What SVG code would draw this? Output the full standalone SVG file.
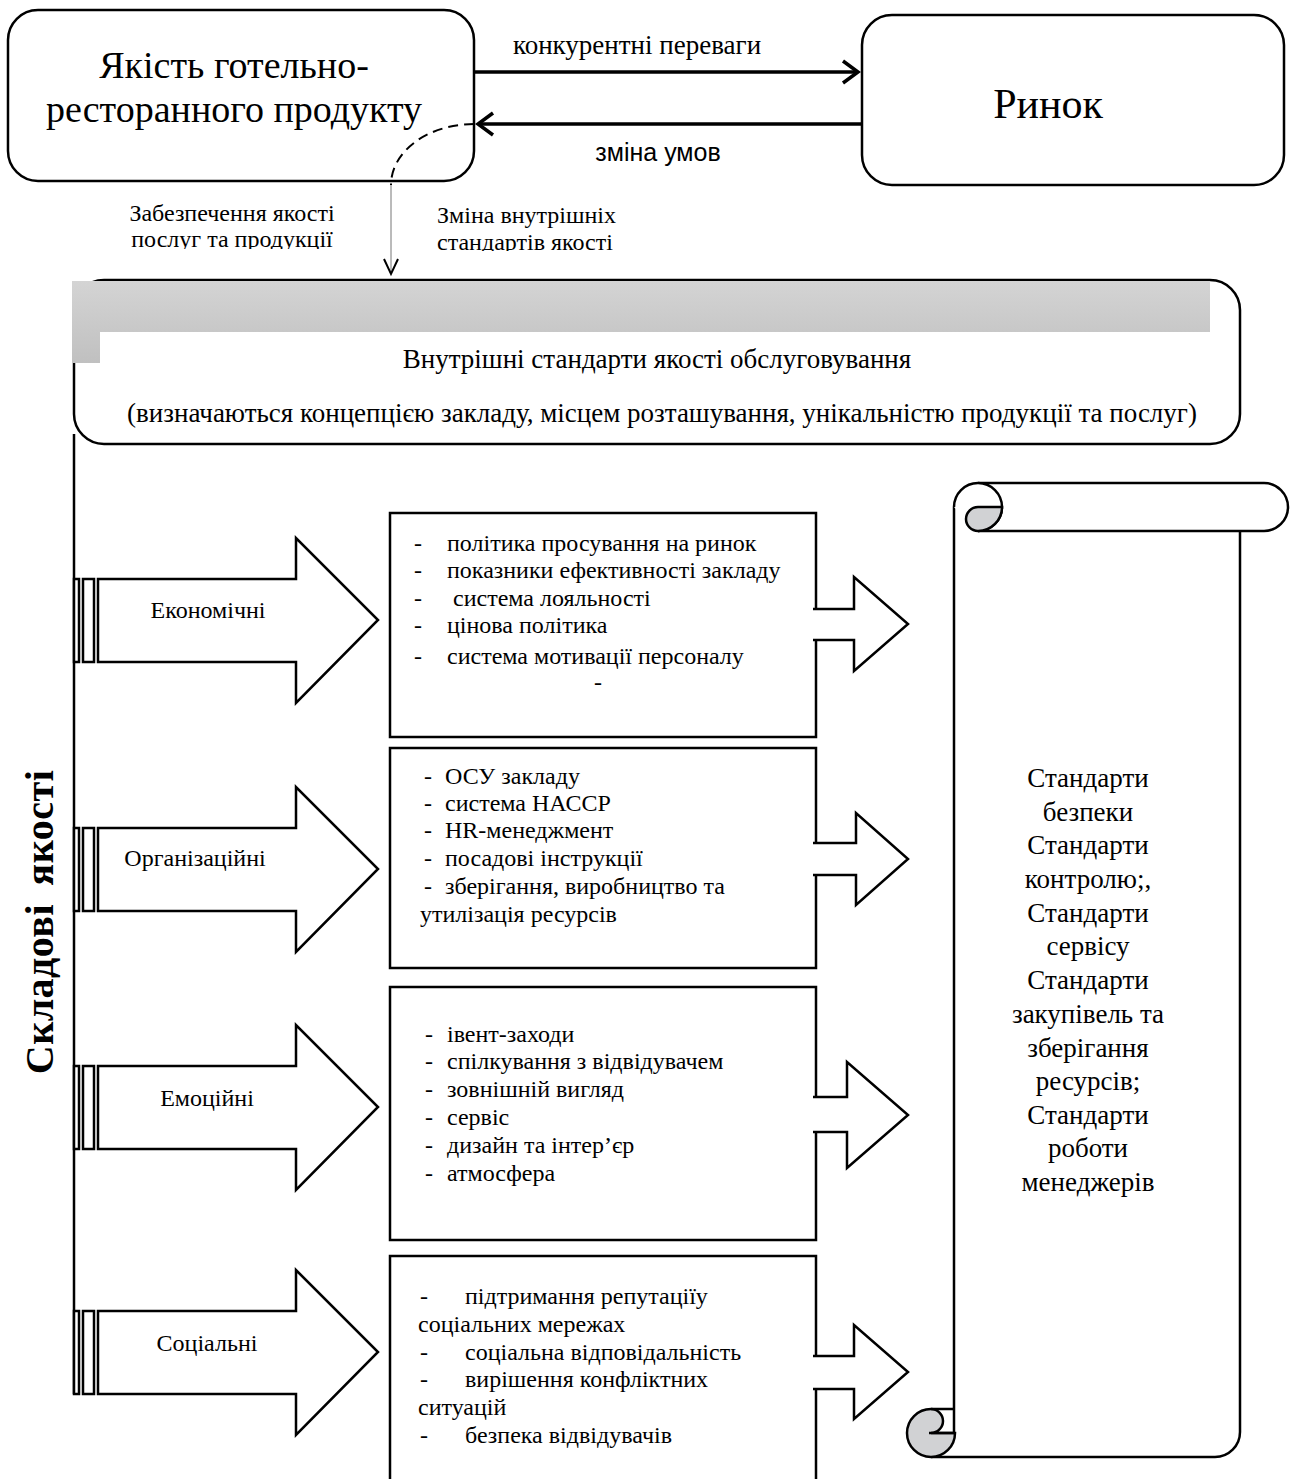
<svg xmlns="http://www.w3.org/2000/svg" width="1292" height="1479" viewBox="0 0 1292 1479">
<style>
  text { font-family: "Liberation Serif", "Times New Roman", serif; fill: #000; }
  .ln { fill: none; stroke: #000; stroke-width: 2.5; }
  .box { fill: #fff; stroke: #000; stroke-width: 2.5; }
  .big { fill: #fff; stroke: #000; stroke-width: 2.5; stroke-linejoin: miter; }
  .lbl { font-size: 24px; text-anchor: middle; }
  .li { font-size: 24px; }
  .scr { font-size: 27px; text-anchor: middle; }
  .sm { fill: #fff; stroke: #000; stroke-width: 2.5; }
</style>
<defs>
  <linearGradient id="gb" x1="0" y1="0" x2="0" y2="1">
    <stop offset="0" stop-color="#d4d4d4"/>
    <stop offset="1" stop-color="#c0c0c0"/>
  </linearGradient>
  <clipPath id="c1"><rect x="100" y="190" width="260" height="59"/></clipPath>
  <clipPath id="c2"><rect x="420" y="190" width="260" height="61"/></clipPath>
</defs>
<rect width="1292" height="1479" fill="#fff"/>

<!-- top nodes -->
<g id="quality">
  <rect x="8" y="10" width="466" height="171" rx="30" class="box"/>
  <text x="234" y="78" font-size="38" text-anchor="middle">Якість готельно-</text>
  <text x="234" y="122" font-size="38" text-anchor="middle">ресторанного продукту</text>
</g>
<g id="market">
  <rect x="862" y="15" width="422" height="170" rx="30" class="box"/>
  <text x="1048" y="118" font-size="42" text-anchor="middle">Ринок</text>
</g>

<!-- banner -->
<g id="standards">
  <rect x="74" y="280" width="1166" height="164" rx="30" class="box" stroke-width="2"/>
  <path d="M72,281 H1210 V332 H100 V363 H72 Z" fill="url(#gb)"/>
  <text x="657" y="368" font-size="27" text-anchor="middle">Внутрішні стандарти якості обслуговування</text>
  <text x="662" y="422" font-size="27" text-anchor="middle">(визначаються концепцією закладу, місцем розташування, унікальністю продукції та послуг)</text>
</g>

<!-- vertical axis -->
<g id="axis">
  <line x1="74" y1="434" x2="74" y2="1394" stroke="#000" stroke-width="2.5"/>
  <text transform="translate(53,922) rotate(-90)" font-size="40" font-weight="bold" text-anchor="middle" word-spacing="8" letter-spacing="0.5">Складові якості</text>
</g>

<!-- big arrows -->
<g id="economic">
  <rect x="74" y="579" width="5" height="83" class="big" stroke-width="2"/>
  <rect x="83" y="579" width="11" height="83" class="big" stroke-width="2"/>
  <path d="M98,579 H296 V538 L378,620 L296,703 V662 H98 Z" class="big"/>
  <text x="208" y="618" class="lbl">Економічні</text>
</g>
<g id="organizational">
  <rect x="74" y="828" width="5" height="83" class="big" stroke-width="2"/>
  <rect x="83" y="828" width="11" height="83" class="big" stroke-width="2"/>
  <path d="M98,828 H296 V787 L378,869 L296,952 V911 H98 Z" class="big"/>
  <text x="195" y="866" class="lbl">Організаційні</text>
</g>
<g id="emotional">
  <rect x="74" y="1066" width="5" height="83" class="big" stroke-width="2"/>
  <rect x="83" y="1066" width="11" height="83" class="big" stroke-width="2"/>
  <path d="M98,1066 H296 V1025 L378,1107 L296,1190 V1149 H98 Z" class="big"/>
  <text x="207" y="1106" class="lbl">Емоційні</text>
</g>
<g id="social">
  <rect x="74" y="1311" width="5" height="83" class="big" stroke-width="2"/>
  <rect x="83" y="1311" width="11" height="83" class="big" stroke-width="2"/>
  <path d="M98,1311 H296 V1270 L378,1352 L296,1435 V1394 H98 Z" class="big"/>
  <text x="207" y="1351" class="lbl">Соціальні</text>
</g>

<!-- list boxes -->
<g id="list-economic">
  <rect x="390" y="513" width="426" height="224" class="box"/>
  <text class="li" y="551"><tspan x="414">-</tspan><tspan x="447">політика просування на ринок</tspan></text>
  <text class="li" y="578"><tspan x="414">-</tspan><tspan x="447">показники ефективності закладу</tspan></text>
  <text class="li" y="606"><tspan x="414">-</tspan><tspan x="453">система лояльності</tspan></text>
  <text class="li" y="633"><tspan x="414">-</tspan><tspan x="447">цінова політика</tspan></text>
  <text class="li" y="664"><tspan x="414">-</tspan><tspan x="447">система мотивації персоналу</tspan></text>
  <text class="li" x="594" y="690">-</text>
</g>
<g id="list-organizational">
  <rect x="390" y="748" width="426" height="220" class="box"/>
  <text class="li" y="784"><tspan x="424">-</tspan><tspan x="445">ОСУ закладу</tspan></text>
  <text class="li" y="811"><tspan x="424">-</tspan><tspan x="445">система НАССР</tspan></text>
  <text class="li" y="838"><tspan x="424">-</tspan><tspan x="445">HR-менеджмент</tspan></text>
  <text class="li" y="866"><tspan x="424">-</tspan><tspan x="445">посадові інструкції</tspan></text>
  <text class="li" y="894"><tspan x="424">-</tspan><tspan x="445">зберігання, виробництво та</tspan></text>
  <text class="li" x="420" y="922">утилізація ресурсів</text>
</g>
<g id="list-emotional">
  <rect x="390" y="987" width="426" height="253" class="box"/>
  <text class="li" y="1042"><tspan x="425">-</tspan><tspan x="447">івент-заходи</tspan></text>
  <text class="li" y="1069"><tspan x="425">-</tspan><tspan x="447">спілкування з відвідувачем</tspan></text>
  <text class="li" y="1097"><tspan x="425">-</tspan><tspan x="447">зовнішній вигляд</tspan></text>
  <text class="li" y="1125"><tspan x="425">-</tspan><tspan x="447">сервіс</tspan></text>
  <text class="li" y="1153"><tspan x="425">-</tspan><tspan x="447">дизайн та інтер’єр</tspan></text>
  <text class="li" y="1181"><tspan x="425">-</tspan><tspan x="447">атмосфера</tspan></text>
</g>
<g id="list-social">
  <rect x="390" y="1256" width="426" height="240" class="box"/>
  <text class="li" y="1304"><tspan x="420">-</tspan><tspan x="465">підтримання репутаціїу</tspan></text>
  <text class="li" x="418" y="1332">соціальних мережах</text>
  <text class="li" y="1360"><tspan x="420">-</tspan><tspan x="465">соціальна відповідальність</tspan></text>
  <text class="li" y="1387"><tspan x="420">-</tspan><tspan x="465">вирішення конфліктних</tspan></text>
  <text class="li" x="418" y="1415">ситуацій</text>
  <text class="li" y="1443"><tspan x="420">-</tspan><tspan x="465">безпека відвідувачів</tspan></text>
</g>

<!-- scroll -->
<g id="scroll">
  <path d="M954,507 V1433 M931,1457 H1215 A25,25 0 0 0 1240,1432 V531" class="ln"/>
  <path d="M954,507 A24,24 0 0 1 978,483 H1264 A24,24 0 0 1 1264,531 H978" fill="#fff" stroke="#000" stroke-width="2.5"/>
  <path d="M978,483 A24,24 0 0 1 1002,507 A24,24 0 0 1 978,531" fill="#fff" stroke="#000" stroke-width="2.5"/>
  <path d="M1002,507 H978 A12,12 0 0 0 978,531 A24,24 0 0 0 1002,507 Z" fill="#d1d2d4" stroke="#000" stroke-width="2.5"/>
  <path d="M931,1409 A12,12 0 0 1 931,1433 H955 A24,24 0 0 1 931,1457 A24,24 0 0 1 907,1433 A24,24 0 0 1 931,1409 Z" fill="#d1d2d4" stroke="#000" stroke-width="2.5"/>
  <path d="M931,1409 H954 M929,1433 H954" class="ln"/>
  <text class="scr" x="1088" y="787">Стандарти</text>
  <text class="scr" x="1088" y="821">безпеки</text>
  <text class="scr" x="1088" y="854">Стандарти</text>
  <text class="scr" x="1088" y="888">контролю;,</text>
  <text class="scr" x="1088" y="922">Стандарти</text>
  <text class="scr" x="1088" y="955">сервісу</text>
  <text class="scr" x="1088" y="989">Стандарти</text>
  <text class="scr" x="1088" y="1023">закупівель та</text>
  <text class="scr" x="1088" y="1057">зберігання</text>
  <text class="scr" x="1088" y="1090">ресурсів;</text>
  <text class="scr" x="1088" y="1124">Стандарти</text>
  <text class="scr" x="1088" y="1157">роботи</text>
  <text class="scr" x="1088" y="1191">менеджерів</text>
</g>

<!-- connectors -->
<g id="connectors">
  <line x1="474" y1="72" x2="856" y2="72" stroke="#000" stroke-width="3.5"/>
  <path d="M843,61 L858,72 L843,83" fill="none" stroke="#000" stroke-width="3.5"/>
  <line x1="862" y1="124" x2="480" y2="124" stroke="#000" stroke-width="3.5"/>
  <path d="M493,113 L478,124 L493,135" fill="none" stroke="#000" stroke-width="3.5"/>
  <text x="637" y="54" font-size="27" text-anchor="middle">конкурентні переваги</text>
  <text x="658" y="161" font-size="25" text-anchor="middle" style="font-family:'Liberation Sans','Open Sans',sans-serif">зміна умов</text>
  <path d="M474,124 A83,61 0 0 0 391,185" fill="none" stroke="#000" stroke-width="2" stroke-dasharray="10 6"/>
  <line x1="391" y1="185" x2="391" y2="273" stroke="#777" stroke-width="1"/>
  <path d="M384,259 L391,274 L398,259" fill="none" stroke="#000" stroke-width="2"/>
  <g clip-path="url(#c1)">
    <text x="232" y="221" font-size="24" text-anchor="middle">Забезпечення якості</text>
    <text x="232" y="247" font-size="24" text-anchor="middle">послуг та продукції</text>
  </g>
  <g clip-path="url(#c2)">
    <text x="437" y="223" font-size="24">Зміна внутрішніх</text>
    <text x="437" y="250" font-size="24">стандартів якості</text>
  </g>
  <path d="M813,609 H854 V577 L908,624 L854,671 V640 H813" class="sm"/>
  <path d="M813,843 H856 V813 L908,859 L856,905 V875 H813" class="sm"/>
  <path d="M813,1097 H847 V1062 L908,1115 L847,1168 V1132 H813" class="sm"/>
  <path d="M813,1356 H854 V1325 L908,1372 L854,1419 V1389 H813" class="sm"/>
</g>
</svg>
